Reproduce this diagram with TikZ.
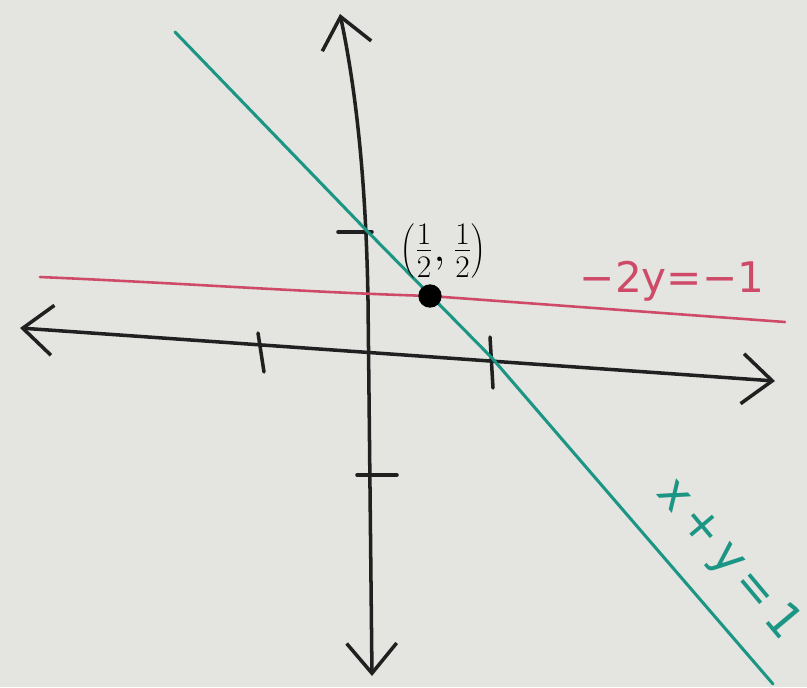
\documentclass[tikz,border=0pt]{standalone}
\usepackage{fontspec}
\setmainfont{DejaVu Sans}
\usetikzlibrary{arrows.meta,positioning}
\definecolor{board}{RGB}{228,228,224}
\definecolor{penteal}{RGB}{28,150,132}
\definecolor{penred}{RGB}{206,74,104}
\definecolor{penblack}{RGB}{32,32,32}
\tikzset{
  barb/.tip={Straight Barb[length=9mm,width=15mm,line width=3pt]},
  axis/.style={draw=penblack, line width=3pt, line cap=round, barb-barb},
  tickmark/.style={draw=penblack, line width=3pt, line cap=round},
  graphline/.style={line width=2.6pt, line cap=round},
  handtext/.style={font=\fontsize{36}{40}\selectfont, inner sep=0pt}
}

\begin{document}
\begin{tikzpicture}[
    x=0.03cm, y=-0.03cm,
    dot/.style={circle, fill=black, minimum size=0.7cm, inner sep=0pt}
]
\fill[board] (0,0) rectangle (807,687);
\useasboundingbox (0,0) rectangle (807,687);

% axes
\coordinate (xl) at (20,328);
\coordinate (xr) at (775,381);
\coordinate (ytop) at (340,14);
\coordinate (ybot) at (372,676);
\draw[axis] (xl) -- (xr);
\draw[axis] (ytop) .. controls (356,90) and (366,180) .. (368,300) -- (ybot);

% ticks
\draw[tickmark] (258,333) -- (264,372);
\draw[tickmark] (490,337) -- (493,388);
\draw[tickmark] (338,232) -- (372,232);
\draw[tickmark] (357,475) -- (397,475);

% lines
\draw[graphline, penred, line width=2.2pt] (40,277) .. controls (200,284) and (300,292) .. (430,296) -- (785,322);
\draw[graphline, penteal] (175,32) -- (370,234) -- (492,358) -- (773,684);

% intersection
\node[dot] (pt) at (430,296) {};
\node[inner sep=0pt, anchor=south west, font=\fontsize{24}{28}\selectfont] (ptlabel) at (400,278)
  {\scalebox{1.55}{$\left(\frac{1}{2},\frac{1}{2}\right)$}};

% labels
\node[handtext, penred] (redlabel) at (672,281) {−2y=−1};
\node[handtext, penteal, rotate=-50, font=\fontsize{40}{44}\selectfont] (teallabel) at (728,560) {x\,+\,y\,=\,1};
\end{tikzpicture}
\end{document}
